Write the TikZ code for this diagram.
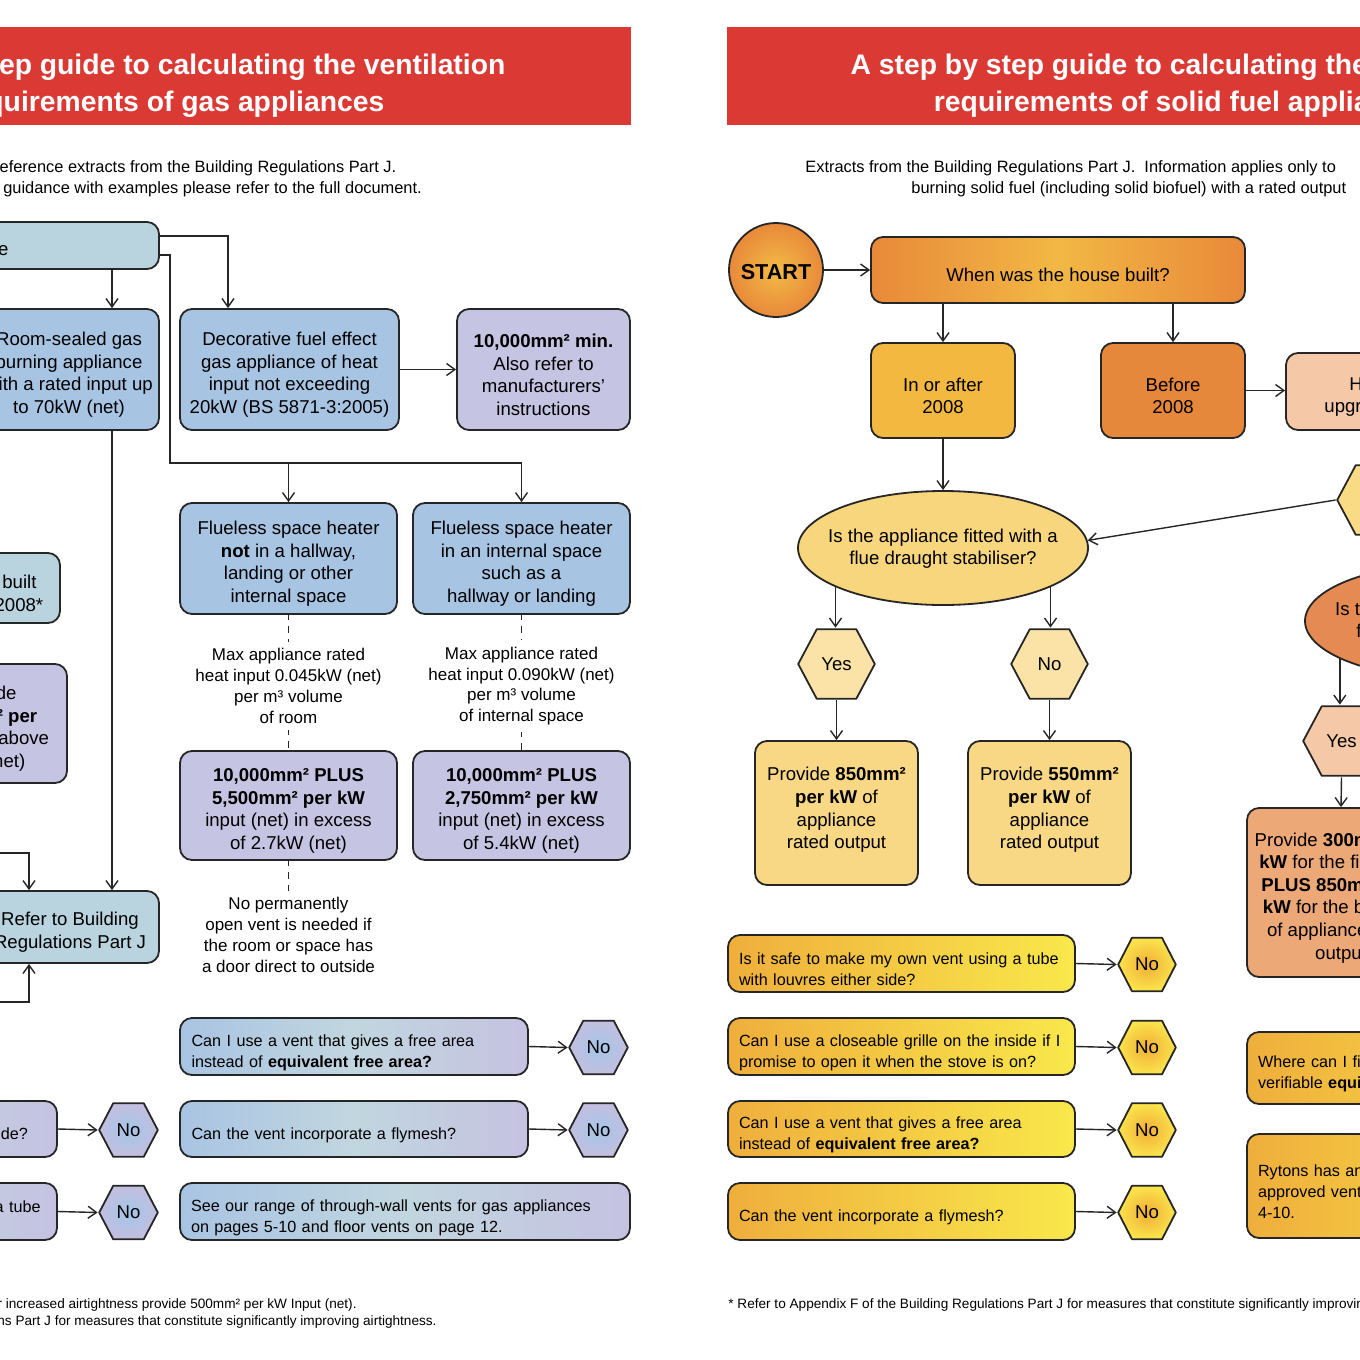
\documentclass[tikz,border=0pt]{standalone}
\usepackage{fontspec}
\setmainfont{Liberation Sans}
\usetikzlibrary{arrows.meta,shapes.geometric,calc}
\definecolor{hdrred}{HTML}{DB3A34}
\definecolor{bord}{HTML}{262626}
\definecolor{teal}{HTML}{B9D3DF}
\definecolor{blu}{HTML}{A8C4E3}
\definecolor{lav}{HTML}{C5C4E2}
\definecolor{gasL}{HTML}{A9C4E3}
\definecolor{gasM}{HTML}{C1D6DF}
\definecolor{gasR}{HTML}{C5C2E1}
\definecolor{ghexI}{HTML}{A4C6E8}
\definecolor{ghexO}{HTML}{C4BEDF}
\definecolor{orL}{HTML}{E8893A}
\definecolor{orM}{HTML}{F2B844}
\definecolor{inaf}{HTML}{F2B840}
\definecolor{bef}{HTML}{E5883C}
\definecolor{peach}{HTML}{F5C9A8}
\definecolor{elly}{HTML}{F8D67E}
\definecolor{hexy}{HTML}{FBE3A8}
\definecolor{hexyy}{HTML}{F9DA85}
\definecolor{pvy}{HTML}{F8D785}
\definecolor{orell}{HTML}{E58A52}
\definecolor{salm}{HTML}{EDA878}
\definecolor{rowL}{HTML}{EFAE3C}
\definecolor{rowR}{HTML}{F9E84B}
\definecolor{rhexI}{HTML}{F1AD38}
\definecolor{rhexO}{HTML}{FBE64C}
\definecolor{startI}{HTML}{F3BB45}
\definecolor{startO}{HTML}{E8893A}
\newcommand\fsbox{\fontsize{9.3}{11.3}\selectfont}
\newcommand\fsrow{\fontsize{8.1}{10.5}\selectfont}
\newcommand\fsnote{\fontsize{8.5}{10.4}\selectfont}
\newcommand\fssub{\fontsize{8.2}{10.5}\selectfont}
\newcommand\fshdr{\fontsize{14.15}{18.5}\selectfont\bfseries}
\newcommand\fsfoot{\fontsize{6.8}{8.5}\selectfont}
\newcommand\zw[1]{\makebox[0pt]{\begin{tabular}{@{}c@{}}#1\end{tabular}}}
\newcommand\lift{\rule{0pt}{12pt}}
\tikzset{
  corners/.style n args={4}{at={({(#1+#3)/2},{(#2+#4)/2})}, minimum width={(#3-#1)*0.5pt}, minimum height={(#4-#2)*0.5pt}},
  bx/.style={draw=bord, line width=0.9pt, rounded corners=6pt, inner sep=0pt, align=center, font=\fsbox,
    execute at begin node={\rule{0pt}{12pt}}},
  gasrow/.style={bx, font=\fsrow, align=left, text width=162.5pt, left color=gasL, right color=gasR, middle color=gasM,
    execute at begin node={\rule{0pt}{10.5pt}}},
  solrow/.style={bx, font=\fsrow, align=left, text width=162.5pt, left color=rowL, right color=rowR,
    execute at begin node={\rule{0pt}{10.5pt}}},
  note/.style={align=center, font=\fsnote, inner sep=3pt},
  hdrtxt/.style={align=center, font=\fshdr, text=white, inner sep=0pt},
  subtxt/.style={align=center, font=\fssub, inner sep=0pt},
  foottxt/.style={font=\fsfoot, inner sep=0pt},
  ellbox/.style={ellipse, draw=bord, line width=0.9pt, minimum width=145pt, minimum height=57pt, inner sep=0pt, font=\fsbox},
  hexa/.style={fill=white, inner sep=0pt, font=\fsbox, path picture={
    \path[draw=bord, line width=0.9pt, line join=round, #1]
      ($(path picture bounding box.west)+(0.6pt,0pt)$) --
      ($(path picture bounding box.north west)!0.25!(path picture bounding box.north east)+(0pt,-0.6pt)$) --
      ($(path picture bounding box.north west)!0.75!(path picture bounding box.north east)+(0pt,-0.6pt)$) --
      ($(path picture bounding box.east)+(-0.6pt,0pt)$) --
      ($(path picture bounding box.south west)!0.75!(path picture bounding box.south east)+(0pt,0.6pt)$) --
      ($(path picture bounding box.south west)!0.25!(path picture bounding box.south east)+(0pt,0.6pt)$) -- cycle;}},
  ghex/.style={hexa={inner color=ghexI, outer color=ghexO}},
  rhex/.style={hexa={inner color=rhexI, outer color=rhexO}},
  arr/.style={line width=0.7pt, draw=bord, -{Straight Barb[length=4.2pt,width=6pt]}},
  ln/.style={line width=0.7pt, draw=bord},
  dl/.style={ln, dash pattern=on 3.5pt off 3pt, dash phase=1pt},
}
\begin{document}
\begin{tikzpicture}[x=0.5pt, y=-0.5pt]
\useasboundingbox (0,0) rectangle (1360,1360);
\clip (0,0) rectangle (1360,1360);
\fill[white] (0,0) rectangle (1360,1360);
% ---------- headers ----------
\fill[hdrred] (-287,27) rectangle (631,125);
\fill[hdrred] (727,27) rectangle (1641,125);
\node[hdrtxt] (hL) at (172,86) {A step by step guide to calculating the ventilation\\requirements of gas appliances};
\node[hdrtxt] (hR) at (1184,86) {A step by step guide to calculating the ventilation\\requirements of solid fuel appliances};
\node[subtxt] (sL) at (172,179) {Quick reference extracts from the Building Regulations Part J.\\For further guidance with examples please refer to the full document.};
\node[subtxt, anchor=west] (sR1) at (805,168) {Extracts from the Building Regulations Part J.\ \ Information applies only to};
\node[subtxt, anchor=west] (sR2) at (911,189) {burning solid fuel (including solid biofuel) with a rated output};
% ---------- gas page ----------
\coordinate (c112) at (112,0);
\coordinate (c228) at (228,0);
\coordinate (c29) at (29,0);
\coordinate (yA) at (0,236);
\coordinate (yB) at (0,255);
\coordinate (bus) at (170,463);
\coordinate (offA) at (-30,853);
\coordinate (offB) at (-30,1002);
\node[bx, fill=teal, corners={-323}{222}{159}{269}] (gtype) {Type of gas appliance};
\node[bx, fill=blu, corners={-21}{309}{159}{430}] (room) {\lift Room-sealed gas\\burning appliance\\with a rated input up\\to 70kW (net)};
\node[bx, fill=blu, corners={180}{309}{399}{430}] (deco) {\lift Decorative fuel effect\\gas appliance of heat\\input not exceeding\\20kW (BS 5871-3:2005)};
\node[bx, fill=lav, corners={457}{309}{630}{430}] (dmin) {\lift\textbf{10,000mm² min.}\\Also refer to\\manufacturers’\\instructions};
\node[bx, fill=teal, corners={-80}{553}{60}{623}] (built) {\lift House built\\before 2008*};
\node[bx, fill=lav, corners={-97}{664}{67}{783}] (p500) {\lift Provide\\\textbf{500mm² per}\\kW input above\\7kW (net)};
\node[bx, fill=blu, corners={180}{503}{397}{614}] (fl1) {\lift Flueless space heater\\\textbf{not} in a hallway,\\landing or other\\internal space};
\node[bx, fill=blu, corners={413}{503}{630}{614}] (fl2) {\lift Flueless space heater\\in an internal space\\such as a\\hallway or landing};
\node[note] (mx1) at (288.5,686) {Max appliance rated\\heat input 0.045kW (net)\\per m³ volume\\of room};
\node[note] (mx2) at (521.5,686) {Max appliance rated\\heat input 0.090kW (net)\\per m³ volume\\of internal space};
\node[bx, fill=lav, corners={180}{751}{397}{860}] (pl1) {\lift\textbf{10,000mm² PLUS}\\\textbf{5,500mm² per kW}\\input (net) in excess\\of 2.7kW (net)};
\node[bx, fill=lav, corners={413}{751}{630}{860}] (pl2) {\lift\textbf{10,000mm² PLUS}\\\textbf{2,750mm² per kW}\\input (net) in excess\\of 5.4kW (net)};
\node[note] (nop) at (288.5,935) {No permanently\\open vent is needed if\\the room or space has\\a door direct to outside};
\node[bx, fill=teal, corners={-19}{891}{159}{963}] (refer) {\lift Refer to Building\\Regulations Part J};
\node[gasrow, corners={180}{1018}{528}{1075}] (gr1) {Can I use a vent that gives a free area\\instead of \textbf{equivalent free area?}};
\node[gasrow, corners={180}{1101}{528}{1157}] (gr2) {Can the vent incorporate a flymesh?};
\node[gasrow, text width=214pt, corners={180}{1183}{630}{1240}] (gr3) {See our range of through-wall vents for gas appliances\\on pages 5-10 and floor vents on page 12.};
\node[gasrow, corners={-290}{1101}{57}{1157}] (gl2) {Can I use a closeable grille on the inside?};
\node[gasrow, corners={-290}{1183}{57}{1240}] (gl3) {Is it safe to make my own vent using a tube\\with louvres either side?};
\node[ghex, corners={568}{1019.5}{629}{1075.5}] (gn1) {No};
\node[ghex, corners={568}{1102}{629}{1158}] (gn2) {No};
\node[ghex, corners={98}{1102}{159}{1158}] (gln2) {No};
\node[ghex, corners={98}{1184.5}{159}{1240.5}] (gln3) {No};
\draw[arr] (gtype.south -| c112) -- (room.north -| c112);
\draw[arr] (gtype.east |- yA) -| (deco.north -| c228);
\draw[arr] (gtype.east |- yB) -| (bus) -| (fl2.north);
\draw[arr] (bus -| fl1.north) -- (fl1.north);
\draw[arr] (deco.east) -- (dmin.west);
\draw[dl] (fl1.south) -- (mx1.north);
\draw[dl] (mx1.south) -- (pl1.north);
\draw[dl] (pl1.south) -- (nop.north);
\draw[dl] (fl2.south) -- (mx2.north);
\draw[dl] (mx2.south) -- (pl2.north);
\draw[arr] (room.south -| c112) -- (refer.north -| c112);
\draw[arr] (offA) -| (refer.north -| c29);
\draw[arr] (offB) -| (refer.south -| c29);
\draw[arr] (gr1.east) -- (gn1.west);
\draw[arr] (gr2.east) -- (gn2.west);
\draw[arr] (gl2.east) -- (gln2.west);
\draw[arr] (gl3.east) -- (gln3.west);
% ---------- solid fuel page ----------
\node[circle, draw=bord, line width=0.9pt, inner color=startI, outer color=startO, minimum size=47pt, inner sep=0pt, font=\fontsize{10.8}{12}\selectfont\bfseries] (start) at (776,270) {\rule{0pt}{10pt}START};
\node[bx, left color=orL, right color=orL, middle color=orM, corners={871}{237}{1245}{303}] (q1) {When was the house built?};
\node[bx, fill=inaf, corners={871}{343}{1015}{438}] (ia) {\lift In or after\\2008};
\node[bx, fill=bef, corners={1101}{343}{1245}{438}] (bf) {\lift Before\\2008};
\node[bx, fill=peach, corners={1286}{353}{1579}{430}] (upg) {\lift Has the house been\\upgraded for airtightness?};
\node[hexa={fill=hexyy}, corners={1336}{464}{1415}{536}] (hy0) {Yes};
\node[ellbox, fill=elly] (ell1) at (943,548) {\zw{\rule{0pt}{9pt}Is the appliance fitted with a\\flue draught stabiliser?}};
\node[hexa={fill=hexy}, corners={797}{628}{876}{700}] (y1) {Yes};
\node[hexa={fill=hexy}, corners={1010}{628}{1089}{700}] (n1) {No};
\node[bx, fill=pvy, corners={755}{741}{918}{885}] (pv1) {\lift Provide \textbf{850mm²}\\\textbf{per kW} of\\appliance\\rated output\\[-1pt]\mbox{}};
\node[bx, fill=pvy, corners={968}{741}{1131}{885}] (pv2) {\lift Provide \textbf{550mm²}\\\textbf{per kW} of\\appliance\\rated output\\[-1pt]\mbox{}};
\node[ellbox, fill=orell] (ell2) at (1450,621) {\zw{\rule{0pt}{9pt}Is the appliance fitted with a\\flue draught stabiliser?}};
\node[hexa={fill=peach}, corners={1302}{705}{1381}{777}] (y2) {Yes};
\node[bx, fill=salm, corners={1247}{808}{1435}{977}] (sal) {\lift Provide \textbf{300mm² per}\\\textbf{kW} for the first 5kW\\\textbf{PLUS 850mm² per}\\\textbf{kW} for the balance\\of appliance rated\\output};
\node[solrow, corners={1247}{1032}{1594}{1104}] (wh) {Where can I find a vent with a\\verifiable \textbf{equivalent free area?}};
\node[solrow, corners={1247}{1134}{1594}{1238}] (ry) {Rytons has an extensive range of\\approved vents for solid fuel on pages\\4-10.};
\node[solrow, corners={728}{935}{1075}{992}] (r1) {Is it safe to make my own vent using a tube\\with louvres either side?};
\node[solrow, corners={728}{1018}{1075}{1075}] (r2) {Can I use a closeable grille on the inside if I\\promise to open it when the stove is on?};
\node[solrow, corners={728}{1101}{1075}{1157}] (r3) {Can I use a vent that gives a free area\\instead of \textbf{equivalent free area?}};
\node[solrow, corners={728}{1183}{1075}{1240}] (r4) {Can the vent incorporate a flymesh?};
\node[rhex, corners={1117}{936.5}{1177}{992.5}] (rn1) {No};
\node[rhex, corners={1117}{1019.5}{1177}{1075.5}] (rn2) {No};
\node[rhex, corners={1117}{1102}{1177}{1158}] (rn3) {No};
\node[rhex, corners={1117}{1184.5}{1177}{1240.5}] (rn4) {No};
\draw[arr] (start.east) -- (q1.west);
\draw[arr] (ia.north |- q1.south) -- (ia.north);
\draw[arr] (bf.north |- q1.south) -- (bf.north);
\draw[arr] (bf.east) -- (bf.east -| upg.west);
\draw[arr] (ia.south) -- (ell1.north);
\draw[arr] (hy0.west) -- (ell1.3);
\draw[arr] (ell1.200) -- (ell1.200 |- y1.north);
\draw[arr] (ell1.340) -- (ell1.340 |- n1.north);
\draw[arr] (y1.south) -- (pv1.north);
\draw[arr] (n1.south) -- (pv2.north);
\draw[arr] (ell2.199) -- (ell2.199 |- y2.north);
\draw[arr] (y2.south) -- (sal.north);
\draw[arr] (r1.east) -- (rn1.west);
\draw[arr] (r2.east) -- (rn2.west);
\draw[arr] (r3.east) -- (rn3.west);
\draw[arr] (r4.east) -- (rn4.west);
% ---------- footnotes ----------
\node[foottxt, anchor=east] (fL1) at (357,1305) {* For increased airtightness provide 500mm² per kW Input (net).};
\node[foottxt, anchor=east] (fL2) at (437,1322) {** Refer to Appendix F of the Building Regulations Part J for measures that constitute significantly improving airtightness.};
\node[foottxt, anchor=west] (fR) at (728,1305) {* Refer to Appendix F of the Building Regulations Part J for measures that constitute significantly improving airtightness.};
\end{tikzpicture}
\end{document}
